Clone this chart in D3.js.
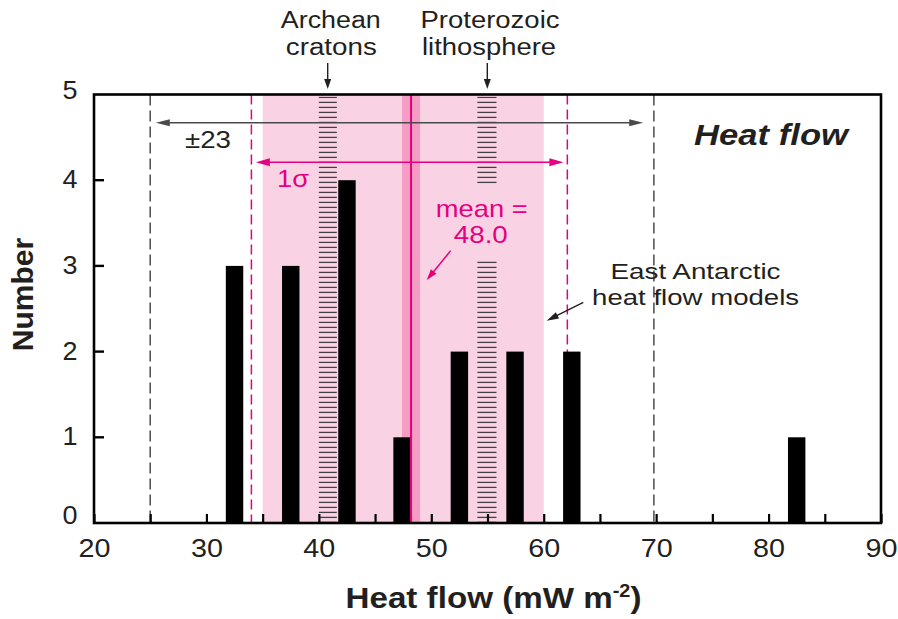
<!DOCTYPE html>
<html>
<head>
<meta charset="utf-8">
<script src="https://cdn.jsdelivr.net/npm/d3@7"></script>
<style>
body { margin: 0; background: #fff; }
text { font-family: "Liberation Sans", Arial, Helvetica, sans-serif; fill: #231f20; }
</style>
</head>
<body>
<div id="chart"></div>
<script>
// histogram of heat flow values
var binCenters = [32.5, 37.5, 42.5, 47.4, 52.5, 57.45, 62.5, 82.5];
var counts = [3, 3, 4, 1, 2, 2, 2, 1];
var barWidth = 1.55;

var xTicks = [20, 25, 30, 35, 40, 45, 50, 55, 60, 65, 70, 75, 80, 85, 90];
var xTickLabels = [20, 30, 40, 50, 60, 70, 80, 90];
var yTicks = [0, 1, 2, 3, 4, 5];

// ranges and reference lines (mW m-2)
var modelRange = [35, 60];          // East Antarctic heat flow models
var meanBand = [47.4, 49.0];
var meanValue = 48.2;               // drawn position of mean line
var sigmaLines = [34.0, 62.1];      // 1 sigma
var spreadLines = [25.0, 69.8];     // +-23
var archeanRange = [40.0, 41.6];
var proterozoicRange = [54.1, 55.8];
var proterozoicGap = [3.08, 3.94];  // hatch hidden behind mean label (count units)

var W = 898, H = 619;
var mLeft = 94, mRight = 881, mTop = 94.5, mBottom = 523;
var pink = "#e5007e";

var svg = d3.select("#chart").append("svg")
    .attr("width", W)
    .attr("height", H);

var x = d3.scaleLinear().domain([20, 90]).range([mLeft, mRight]);
var y = d3.scaleLinear().domain([0, 5]).range([mBottom, mTop]);

var defs = svg.append("defs");
var pat = defs.append("pattern")
    .attr("id", "hatch")
    .attr("patternUnits", "userSpaceOnUse")
    .attr("width", 10)
    .attr("height", 5)
    .attr("y", 1.8);
pat.append("line")
    .attr("x1", 0).attr("x2", 10)
    .attr("y1", 0.5).attr("y2", 0.5)
    .attr("stroke", "#1a1a1a")
    .attr("stroke-width", 1.1);

// model range band
svg.append("rect")
    .attr("x", x(modelRange[0]))
    .attr("y", mTop)
    .attr("width", x(modelRange[1]) - x(modelRange[0]))
    .attr("height", mBottom - mTop)
    .attr("fill", "#f9d3e4");

svg.append("rect")
    .attr("x", x(meanBand[0]))
    .attr("y", mTop)
    .attr("width", x(meanBand[1]) - x(meanBand[0]))
    .attr("height", mBottom - mTop)
    .attr("fill", "#f49cc3");

// hatched craton / lithosphere bands
svg.append("rect")
    .attr("x", x(archeanRange[0]))
    .attr("y", mTop + 2)
    .attr("width", x(archeanRange[1]) - x(archeanRange[0]))
    .attr("height", mBottom - mTop - 2)
    .attr("fill", "url(#hatch)");

[[0, proterozoicGap[0]], [proterozoicGap[1], 5]].forEach(function (seg) {
    svg.append("rect")
        .attr("x", x(proterozoicRange[0]))
        .attr("y", y(seg[1]) + 2)
        .attr("width", x(proterozoicRange[1]) - x(proterozoicRange[0]))
        .attr("height", y(seg[0]) - y(seg[1]) - 2)
        .attr("fill", "url(#hatch)");
});

// dashed lines
svg.selectAll(".spread").data(spreadLines).enter().append("line")
    .attr("x1", function (d) { return x(d); })
    .attr("x2", function (d) { return x(d); })
    .attr("y1", mTop).attr("y2", mBottom)
    .attr("stroke", "#555")
    .attr("stroke-width", 1.6)
    .attr("stroke-dasharray", "11,5");

svg.selectAll(".sigma").data(sigmaLines).enter().append("line")
    .attr("x1", function (d) { return x(d); })
    .attr("x2", function (d) { return x(d); })
    .attr("y1", mTop).attr("y2", mBottom)
    .attr("stroke", pink)
    .attr("stroke-width", 1.5)
    .attr("stroke-dasharray", "10,5");

// bars
svg.selectAll(".bar").data(counts).enter().append("rect")
    .attr("class", "bar")
    .attr("x", function (d, i) { return x(binCenters[i] - barWidth / 2); })
    .attr("y", function (d) { return y(d); })
    .attr("width", x(barWidth) - x(0))
    .attr("height", function (d) { return y(0) - y(d); })
    .attr("fill", "#000");

// mean line
svg.append("line")
    .attr("x1", x(meanValue)).attr("x2", x(meanValue))
    .attr("y1", mTop).attr("y2", mBottom)
    .attr("stroke", pink)
    .attr("stroke-width", 2);

// axes
var xAxis = svg.append("g")
    .attr("transform", "translate(0," + mBottom + ")")
    .call(d3.axisBottom(x).tickValues(xTicks).tickSize(-9).tickPadding(16)
        .tickFormat(function (d) { return xTickLabels.indexOf(d) >= 0 ? d : ""; }));
xAxis.select(".domain").remove();
xAxis.selectAll("line").attr("stroke", "#000").attr("stroke-width", 2.2);
xAxis.selectAll("text")
    .attr("font-size", 25)
    .attr("fill", "#231f20")
    .attr("textLength", function (d) { return xTickLabels.indexOf(d) >= 0 ? 32 : null; })
    .attr("lengthAdjust", "spacingAndGlyphs");

var yAxis = svg.append("g")
    .attr("transform", "translate(" + mLeft + ",0)")
    .call(d3.axisLeft(y).tickValues(yTicks).tickSize(0).tickFormat(d3.format("d")));
yAxis.select(".domain").remove();
yAxis.selectAll("text")
    .attr("font-size", 25)
    .attr("fill", "#231f20")
    .attr("text-anchor", "middle")
    .attr("x", -24)
    .attr("dy", null)
    .attr("y", function (d) { return d === 0 ? 0 : (d === 5 ? 4 : 7.5); })
    .attr("textLength", 15)
    .attr("lengthAdjust", "spacingAndGlyphs");

// frame
svg.append("rect")
    .attr("x", mLeft).attr("y", mTop)
    .attr("width", mRight - mLeft).attr("height", mBottom - mTop)
    .attr("fill", "none")
    .attr("stroke", "#000")
    .attr("stroke-width", 2.6);

// inward y ticks
svg.selectAll(".ytick").data(yTicks.slice(1, -1)).enter().append("line")
    .attr("class", "ytick")
    .attr("x1", mLeft).attr("x2", mLeft + 10)
    .attr("y1", function (d) { return y(d); })
    .attr("y2", function (d) { return y(d); })
    .attr("stroke", "#000")
    .attr("stroke-width", 2.4);

// arrows
function arrow(x1, y1, x2, y2, color, len, wid, sw, both) {
    var ang = Math.atan2(y2 - y1, x2 - x1);
    var g = svg.append("g");
    var sx = x1, sy = y1;
    if (both) { sx = x1 + Math.cos(ang) * len * 0.8; sy = y1 + Math.sin(ang) * len * 0.8; }
    g.append("line")
        .attr("x1", sx).attr("y1", sy)
        .attr("x2", x2 - Math.cos(ang) * len * 0.8)
        .attr("y2", y2 - Math.sin(ang) * len * 0.8)
        .attr("stroke", color).attr("stroke-width", sw);
    head(g, x2, y2, ang, color, len, wid);
    if (both) head(g, x1, y1, ang + Math.PI, color, len, wid);
}
function head(g, tx, ty, ang, color, len, wid) {
    var bx = tx - Math.cos(ang) * len, by = ty - Math.sin(ang) * len;
    var px = -Math.sin(ang) * wid / 2, py = Math.cos(ang) * wid / 2;
    g.append("path")
        .attr("d", "M" + tx + "," + ty + "L" + (bx + px) + "," + (by + py) + "L" + (bx - px) + "," + (by - py) + "Z")
        .attr("fill", color);
}

arrow(x(25.5), y(4.671), x(68.85), y(4.671), "#4a4a4a", 14, 7, 1.5, true);
arrow(x(34.4), y(4.209), x(61.75), y(4.209), pink, 14, 8, 1.6, true);
arrow(327.7, 63, 327.7, 89, "#231f20", 10, 7, 1.4, false);
arrow(487.3, 63, 487.3, 89, "#231f20", 10, 7, 1.4, false);
arrow(450.7, 250.7, 426.7, 280, pink, 11, 7, 1.5, false);
arrow(583.3, 302.3, 546.7, 320.7, "#231f20", 12, 7, 1.4, false);

// labels
function label(cx, by, s, size, len, color, weight, style) {
    return svg.append("text")
        .attr("x", cx).attr("y", by)
        .attr("text-anchor", "middle")
        .attr("font-size", size)
        .attr("font-weight", weight || "normal")
        .attr("font-style", style || "normal")
        .attr("textLength", len)
        .attr("lengthAdjust", "spacingAndGlyphs")
        .style("fill", color || "#231f20")
        .text(s);
}

label(330.8, 28, "Archean", 23, 100);
label(331.3, 55, "cratons", 23, 91);
label(490, 28, "Proterozoic", 23, 139);
label(489, 55, "lithosphere", 23, 134);
label(208, 148, "±23", 24, 46);
label(293, 187, "1σ", 24, 32, pink);
label(481.7, 216.7, "mean =", 24, 92, pink);
label(480.8, 242.7, "48.0", 24, 54, pink);
label(771, 145, "Heat flow", 30, 154, null, "bold", "italic");
label(695.5, 279.3, "East Antarctic", 22.5, 170);
label(695.6, 305, "heat flow models", 22.5, 207);

var xl = svg.append("text")
    .attr("x", 493.5).attr("y", 608)
    .attr("text-anchor", "middle")
    .attr("font-size", 30)
    .attr("font-weight", "bold")
    .attr("textLength", 296)
    .attr("lengthAdjust", "spacingAndGlyphs");
xl.append("tspan").text("Heat flow (mW m");
xl.append("tspan").attr("font-size", 18).attr("dy", -11).text("-2");
xl.append("tspan").attr("dy", 11).text(")");

svg.append("text")
    .attr("transform", "translate(33,294.5) rotate(-90)")
    .attr("text-anchor", "middle")
    .attr("font-size", 30)
    .attr("font-weight", "bold")
    .text("Number");
</script>
</body>
</html>
